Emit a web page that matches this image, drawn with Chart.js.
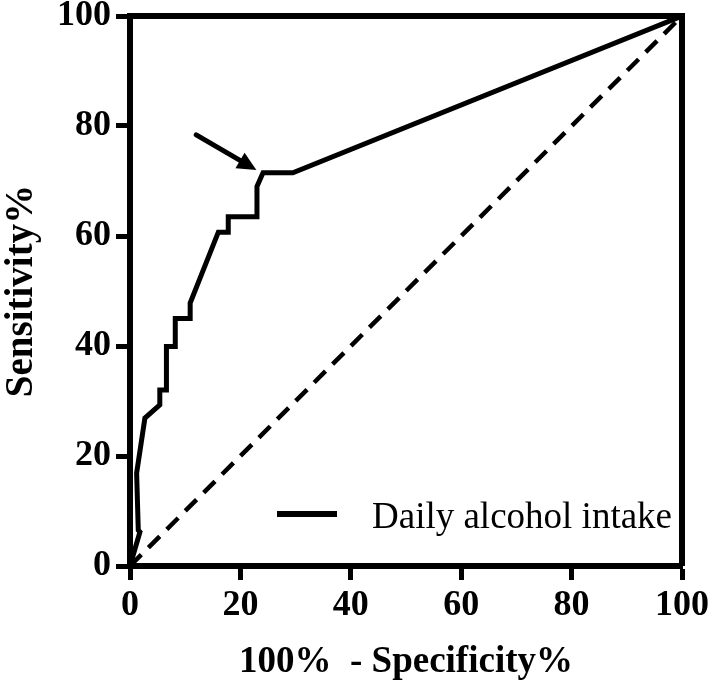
<!DOCTYPE html>
<html><head><meta charset="utf-8">
<script src="https://cdn.jsdelivr.net/npm/chart.js@4.4.1/dist/chart.umd.min.js"></script>
<style>html,body{margin:0;padding:0;background:#fff;}</style>
</head><body>
<canvas id="c" width="709" height="691" style="display:block;width:709px;height:691px"></canvas>
<script>
// ---- data ----
const seriesName = 'Daily alcohol intake';
const fpr  = [0, 1.8, 1.5, 1.2, 2.7, 5.4, 5.4, 6.6, 6.6, 8.2, 8.2, 10.9, 10.9, 16.0, 17.8, 17.8, 23.0, 23.0, 24.1, 29.5, 100];
const sens = [0, 6.2, 6.5, 16.9, 26.9, 29.3, 32.0, 32.0, 39.9, 39.9, 45.0, 45.0, 47.8, 60.7, 60.7, 63.5, 63.5, 69.0, 71.5, 71.5, 100];
const refX = [0, 100];
const refY = [0, 100];
const tickValues = [0, 20, 40, 60, 80, 100];
const xTitle = '100%  - Specificity%';
const yTitle = 'Sensitivity%';
const arrowFrom = {x: 12.0, y: 78.4};
const arrowTo = {x: 22.9, y: 72.0};

const rocPoints = fpr.map((v, i) => ({x: v, y: sens[i]}));
const refPoints = refX.map((v, i) => ({x: v, y: refY[i]}));

const SERIF = '"Liberation Serif", "Times New Roman", serif';

const extras = {
  id: 'extras',
  afterDatasetsDraw(chart) {
    const {ctx, chartArea: a, scales} = chart;
    ctx.save();
    // box
    ctx.strokeStyle = '#000';
    ctx.lineWidth = 6;
    ctx.beginPath();
    ctx.moveTo(a.left, a.top);
    ctx.lineTo(a.right, a.top);
    ctx.lineTo(a.right, a.bottom);
    ctx.stroke();
    // arrow
    const x1 = scales.x.getPixelForValue(arrowFrom.x), y1 = scales.y.getPixelForValue(arrowFrom.y);
    const x2 = scales.x.getPixelForValue(arrowTo.x), y2 = scales.y.getPixelForValue(arrowTo.y);
    const ang = Math.atan2(y2 - y1, x2 - x1);
    const hl = 19, hw = 9;
    const bx = x2 - hl * Math.cos(ang), by = y2 - hl * Math.sin(ang);
    ctx.lineWidth = 5;
    ctx.lineCap = 'round';
    ctx.beginPath(); ctx.moveTo(x1, y1); ctx.lineTo(bx, by); ctx.stroke();
    ctx.fillStyle = '#000';
    ctx.beginPath();
    ctx.moveTo(x2, y2);
    ctx.lineTo(bx + hw * Math.sin(ang), by - hw * Math.cos(ang));
    ctx.lineTo(bx - hw * Math.sin(ang), by + hw * Math.cos(ang));
    ctx.closePath(); ctx.fill();
    // legend
    const ly = a.bottom - 52;
    ctx.lineCap = 'butt';
    ctx.lineWidth = 6;
    ctx.beginPath(); ctx.moveTo(a.right - 405, ly); ctx.lineTo(a.right - 345, ly); ctx.stroke();
    ctx.font = '37px ' + SERIF;
    ctx.textBaseline = 'alphabetic';
    ctx.textAlign = 'left';
    ctx.fillText(chart.data.datasets[0].label, a.right - 310, a.bottom - 38);
    ctx.restore();
  }
};

const fixY = s => { s.width = 130; s.paddingTop = 0; s.paddingBottom = 0; };
const fixX = s => { s.height = 125; s.paddingLeft = 0; s.paddingRight = 0; };

new Chart(document.getElementById('c'), {
  type: 'scatter',
  data: {
    datasets: [
      {label: seriesName, data: rocPoints, showLine: true, borderColor: '#000', borderWidth: 5,
       pointRadius: 0, tension: 0, fill: false, borderJoinStyle: 'miter', borderCapStyle: 'butt'},
      {label: 'Reference', data: refPoints, showLine: true, borderColor: '#000', borderWidth: 4.5,
       borderDash: [16, 10], pointRadius: 0, tension: 0, fill: false}
    ]
  },
  options: {
    responsive: false,
    animation: false,
    devicePixelRatio: 1,
    layout: {padding: {top: 16, right: 27, left: 0, bottom: 0}},
    plugins: {legend: {display: false}, tooltip: {enabled: false}},
    scales: {
      x: {
        type: 'linear', min: 0, max: 100,
        afterFit: fixX,
        afterBuildTicks: s => { s.ticks = tickValues.map(v => ({value: v})); },
        border: {display: true, color: '#000', width: 6},
        grid: {drawOnChartArea: false, drawTicks: true, tickLength: 14, tickWidth: 5, tickColor: '#000'},
        ticks: {color: '#000', padding: 4, maxRotation: 0, autoSkip: false,
                font: {family: SERIF, size: 36, weight: 'bold'}},
        title: {display: true, text: xTitle, color: '#000', padding: {top: 0, bottom: 10},
                font: {family: SERIF, size: 37, weight: 'bold', lineHeight: 1}}
      },
      y: {
        type: 'linear', min: 0, max: 100,
        afterFit: fixY,
        afterBuildTicks: s => { s.ticks = tickValues.map(v => ({value: v})); },
        border: {display: true, color: '#000', width: 6},
        grid: {drawOnChartArea: false, drawTicks: true, tickLength: 14, tickWidth: 5, tickColor: '#000'},
        ticks: {color: '#000', padding: 5, autoSkip: false,
                font: {family: SERIF, size: 36, weight: 'bold'}},
        title: {display: true, text: yTitle, color: '#000', padding: {top: 2, bottom: 0},
                font: {family: SERIF, size: 39, weight: 'bold', lineHeight: 1}}
      }
    }
  },
  plugins: [extras]
});
</script>
</body></html>
